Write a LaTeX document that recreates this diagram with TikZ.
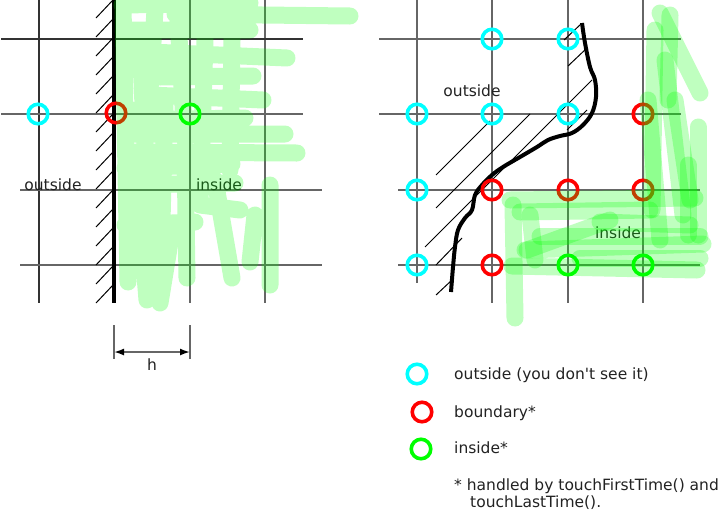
\documentclass[tikz,border=0pt]{standalone}
\usepackage{fontspec}
\setmainfont{DejaVu Sans}
\usetikzlibrary{arrows.meta}
\definecolor{gridgray}{HTML}{666666}
\definecolor{griddark}{HTML}{333333}
\definecolor{cout}{HTML}{00FFFF}
\definecolor{cbnd}{HTML}{FF0000}
\definecolor{cin}{HTML}{00FF00}
\definecolor{scribcol}{HTML}{00FF00}
\definecolor{txt}{HTML}{222222}
\begin{document}
\begin{tikzpicture}[x=1pt,y=-1pt,
  gridline/.style={draw=gridgray,line width=1.7pt},
  griddk/.style={draw=griddark,line width=1.7pt},
  hatchline/.style={draw=black,line width=1pt},
  wall/.style={draw=black,line width=4pt},
  ptcirc/.style={circle,line width=3.6pt,minimum size=19.5pt,inner sep=0pt},
  outpt/.style={ptcirc,draw=cout},
  bndpt/.style={ptcirc,draw=cbnd},
  inpt/.style={ptcirc,draw=cin},
  lbl/.style={inner sep=0pt,text=txt,font=\fontsize{15.5}{18}\selectfont},
  scrib/.style={draw=scribcol,draw opacity=0.25,line width=17pt,line cap=round,line join=round},
  dimline/.style={draw=gridgray,line width=1.7pt}
]
\useasboundingbox (0,0) rectangle (727,512);

% ---------------- left diagram ----------------
\draw[griddk] (39,0) -- (39,303);
\draw[gridline] (190,0) -- (190,303);
\draw[gridline] (265,0) -- (265,303);
\draw[griddk] (1,39) -- (303,39);
\draw[gridline] (1,114) -- (303,114);
\draw[gridline] (20,190) -- (322,190);
\draw[gridline] (20,265) -- (322,265);

\foreach \yy in {0,19,...,285}
  \draw[hatchline] (96,\yy+18) -- (113,\yy);
\draw[wall] (114,0) -- (114,303);

\node[outpt] (lo) at (38,114) {};
\node[bndpt] (lb) at (116,113) {};
\node[inpt] (li) at (190,114) {};

\node[lbl,anchor=base] (lout) at (53,190) {outside};
\node[lbl,anchor=base] (lin) at (219,190) {inside};

% green scribble (left)
\draw[scrib]
  (122,5)--(250,3)
  (175,14)--(350,16)
  (125,30)--(250,30)
  (150,52)--(287,58)
  (130,66)--(200,70)
  (160,77)--(253,76)
  (150,95)--(263,100)
  (125,110)--(160,112)
  (125,120)--(245,118)
  (130,134)--(285,134)
  (130,152)--(297,153)
  (125,168)--(232,164)
  (130,185)--(235,183)
  (200,205)--(240,210)
  (125,225)--(195,222)
  (123,5)--(128,282)
  (140,40)--(150,255)
  (165,100)--(160,303)--(172,230)
  (185,150)--(187,278)
  (205,40)--(200,200)
  (215,180)--(232,278)
  (255,215)--(250,262)
  (270,185)--(270,285)
  (138,190)--(147,300)
  (178,20)--(185,140)
  (232,40)--(230,170)
  (155,10)--(150,90);

% dimension h
\coordinate (d1a) at (114,325);
\coordinate (d1b) at (114,359);
\coordinate (d2a) at (190,325);
\coordinate (d2b) at (190,359);
\coordinate (da) at (114,352);
\coordinate (db) at (190,352);
\draw[dimline] (d1a) -- (d1b);
\draw[dimline] (d2a) -- (d2b);
\draw[dimline,{Latex[length=10pt,width=7pt,color=black]}-{Latex[length=10pt,width=7pt,color=black]}] (da) -- (db);
\node[lbl,anchor=base] (hl) at (152,370) {h};

% ---------------- right diagram ----------------
\draw[gridline] (417,0) -- (417,283);
\draw[gridline] (492,0) -- (492,303);
\draw[gridline] (568,0) -- (568,303);
\draw[gridline] (643,0) -- (643,303);
\draw[gridline] (379,39) -- (681,39);
\draw[gridline] (379,114) -- (681,114);
\draw[gridline] (398,190) -- (700,190);
\draw[gridline] (398,265) -- (700,265);

\draw[hatchline] (436,175)--(490,121);
\draw[hatchline] (436,208)--(530,114);
\draw[hatchline] (425,247)--(592,80);
\draw[hatchline] (436,265)--(462,238);
\draw[hatchline] (436,295)--(452,280);
\draw[hatchline] (564,40)--(581,24);
\draw[hatchline] (568,66)--(587,48);
\draw[hatchline] (567,130)--(587,110);

\draw[wall,line join=round] plot[smooth,tension=0.6] coordinates {
  (582,23) (585,43) (590,67) (595,80) (596,97) (592,113) (583,125)
  (572,133) (560,136) (548,140) (537,147) (520,157) (503,167) (492,175)
  (482,185) (475,195) (472,210) (465,218) (458,230) (455,247) (453,267) (451,292)};

\node[outpt] (r1) at (492,39) {};
\node[outpt] (r2) at (568,39) {};
\node[outpt] (r3) at (417,114) {};
\node[outpt] (r4) at (492,114) {};
\node[outpt] (r5) at (568,114) {};
\node[bndpt] (r6) at (643,114) {};
\node[outpt] (r7) at (417,190) {};
\node[bndpt] (r8) at (492,190) {};
\node[bndpt] (r9) at (568,190) {};
\node[bndpt] (r10) at (643,190) {};
\node[outpt] (r11) at (417,265) {};
\node[bndpt] (r12) at (492,265) {};
\node[inpt] (r13) at (568,265) {};
\node[inpt] (r14) at (643,265) {};

\node[lbl,anchor=base] (rout) at (472,96) {outside};
\node[lbl,anchor=base] (rin) at (618,238) {inside};

% green scribble (right)
\draw[scrib] (510,200)--(695,198);
\draw[scrib] (520,212)--(650,210);
\draw[scrib] (600,222)--(690,225);
\draw[scrib] (540,236)--(700,236);
\draw[scrib] (525,250)--(703,244);
\draw[scrib] (512,266)--(697,270);
\draw[scrib] (580,258)--(700,258);
\draw[scrib] (513,205)--(515,318);
\draw[scrib] (530,215)--(535,260);
\draw[scrib] (527,250)--(610,220);
\draw[scrib] (660,13)--(700,93);
\draw[scrib] (655,30)--(652,210);
\draw[scrib] (665,60)--(683,215);
\draw[scrib] (698,127)--(698,235);
\draw[scrib] (688,165)--(688,235);
\draw[scrib] (648,100)--(660,240);
\draw[scrib] (670,15)--(668,100);
\draw[scrib] (675,100)--(690,200);

% ---------------- legend ----------------
\node[outpt] (k1) at (417,374) {};
\node[bndpt] (k2) at (422,412) {};
\node[inpt] (k3) at (421,449) {};
\node[lbl,anchor=base west] (t1) at (454,379) {outside (you don\textquotesingle t see it)};
\node[lbl,anchor=base west] (t2) at (454,417) {boundary*};
\node[lbl,anchor=base west] (t3) at (454,453) {inside*};
\node[lbl,anchor=base west] (t4) at (454,490) {* handled by touchFirstTime() and};
\node[lbl,anchor=base west] (t5) at (470,507) {touchLastTime().};
\end{tikzpicture}
\end{document}
